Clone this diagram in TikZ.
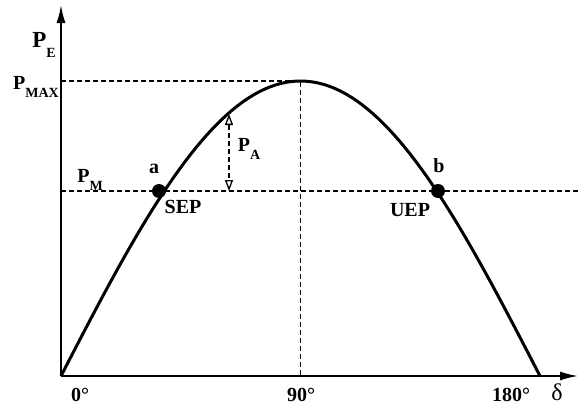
\documentclass[tikz,border=0pt]{standalone}
\usepackage{fontspec}
\setmainfont{Liberation Serif}
\usetikzlibrary{arrows.meta, positioning}
\newcommand{\lowsub}[1]{\raisebox{-0.4em}{\fontsize{14}{14}\selectfont #1}}

\begin{document}
\begin{tikzpicture}[x=1pt, y=-1pt, font=\fontsize{20}{22}\selectfont\bfseries,
  axis/.style={line width=1.7pt, -{Latex[length=18pt, width=9pt]}},
  guide/.style={line width=1.3pt, dash pattern=on 5pt off 3pt},
  dot/.style={circle, fill, inner sep=0pt, minimum size=14pt}]
\useasboundingbox (0,0) rectangle (582,407);

\coordinate (o) at (61,376);
\coordinate (ytop) at (61,5);
\coordinate (xend) at (578,376);
\coordinate (top) at (300.5,81);
\coordinate (pmax) at (61,81);
\coordinate (pm) at (61,191);
\coordinate (pmend) at (578,191);
\coordinate (half) at (300.5,376);
\coordinate (pacurve) at (229,114);
\coordinate (paline) at (229,191);

\draw[guide] (pmax) -- (top) -- (half);
\draw[guide] (pm) -- (pmend);
\draw[guide, {Triangle[open, length=11pt, width=8pt]}-{Triangle[open, length=11pt, width=8pt]}] (pacurve) -- (paline);

\draw[line width=3pt] plot[domain=0:180, samples=90] ({61+2.66111*\x},{376-295*sin(\x)});

\draw[axis] (o) -- (ytop);
\draw[axis] (o) -- (xend);

\node[dot] (a) at (159,191) {};
\node[dot] (b) at (438,191) {};

\node[font=\fontsize{23}{25}\selectfont\bfseries] (pe) at (44,45) {P\lowsub{E}};
\node (pmaxlbl) at (36,87) {P\lowsub{MAX}};
\node (pmlbl) at (90,180) {P\lowsub{M}};
\node (albl) at (154,169) {a};
\node (sep) at (183,207) {SEP};
\node (palbl) at (249,149) {P\lowsub{A}};
\node (blbl) at (439,166) {b};
\node (uep) at (410,210) {UEP};
\node (d0) at (80,395) {0°};
\node (d90) at (301,395) {90°};
\node (d180) at (511,395) {180°};
\node[font=\fontsize{24}{26}\selectfont, inner sep=1pt] (delta) at (557,392) {δ};
\end{tikzpicture}
\end{document}
